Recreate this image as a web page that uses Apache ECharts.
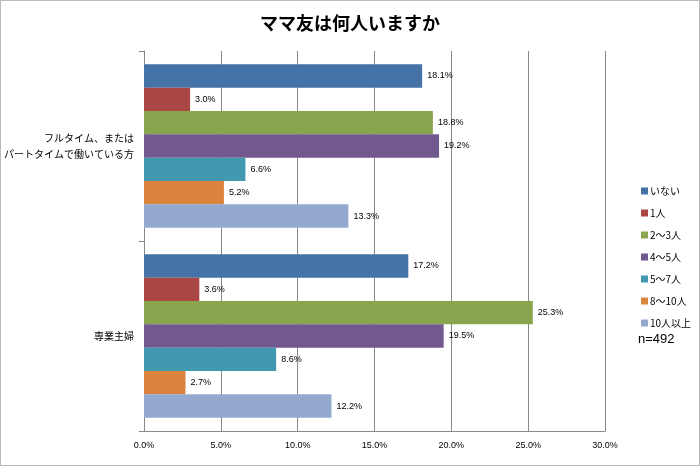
<!DOCTYPE html>
<html><head><meta charset="utf-8">
<script src="https://cdn.jsdelivr.net/npm/echarts@6/dist/echarts.min.js"></script>
<style>html,body{margin:0;padding:0;background:#fff}#c{width:700px;height:466px;box-sizing:border-box;border:1px solid #bbb}</style>
</head><body><div id="c"></div>
<script>
var categories = ['フルタイム、または\nパートタイムで働いている方', '専業主婦'];
var seriesNames = ['いない', '1人', '2〜3人', '4〜5人', '5〜7人', '8〜10人', '10人以上'];
var colors = ['#4572A7', '#AA4643', '#89A54E', '#71588F', '#4198AF', '#DB843D', '#93A9CF'];
var values = [
  [18.1, 17.2],
  [3.0, 3.6],
  [18.8, 25.3],
  [19.2, 19.5],
  [6.6, 8.6],
  [5.2, 2.7],
  [13.3, 12.2]
];
var xTicks = [0, 5, 10, 15, 20, 25, 30];
var chart = echarts.init(document.getElementById('c'));
chart.setOption({
  animation: false,
  title: {text: 'ママ友は何人いますか', left: 'center', top: 8, textStyle: {fontSize: 18, fontWeight: 'bold', color: '#000', fontFamily: 'Noto Sans CJK JP'}},
  legend: {orient: 'vertical', left: 635, top: 180, itemWidth: 7, itemHeight: 7, itemGap: 12, icon: 'rect',
    textStyle: {fontSize: 10, color: '#000', fontFamily: 'Noto Sans CJK JP', padding: [0,0,0,-3]}},
  graphic: [{type: 'text', left: 637, top: 332, style: {text: 'n=492', fontSize: 13, fill: '#000', fontFamily: 'Liberation Sans'}}],
  grid: {left: 140, right: 94, top: 50, bottom: 34},
  xAxis: {type: 'value', min: 0, max: 30, interval: 5,
    axisLabel: {formatter: function(v){return v.toFixed(1)+'%';}, fontSize: 9, color: '#000', margin: 10},
    splitLine: {lineStyle: {color: '#888'}}, axisLine: {show: true, lineStyle: {color: '#888'}}, axisTick: {show: false}},
  yAxis: {type: 'category', data: categories, inverse: true,
    axisLabel: {fontSize: 10, color: '#000', fontFamily: 'Noto Sans CJK JP', margin: 10, lineHeight: 16},
    axisLine: {lineStyle: {color: '#888'}}, axisTick: {show: true, length: 5, lineStyle: {color: '#888'}}},
  series: seriesNames.map(function(n, i){
    return {name: n, type: 'bar', data: values[i], barGap: '0%', barCategoryGap: '14%',
      itemStyle: {color: colors[i]},
      label: {show: true, position: 'right', formatter: function(p){return p.value.toFixed(1)+'%';}, fontSize: 9, color: '#000'}};
  })
});
</script></body></html>
